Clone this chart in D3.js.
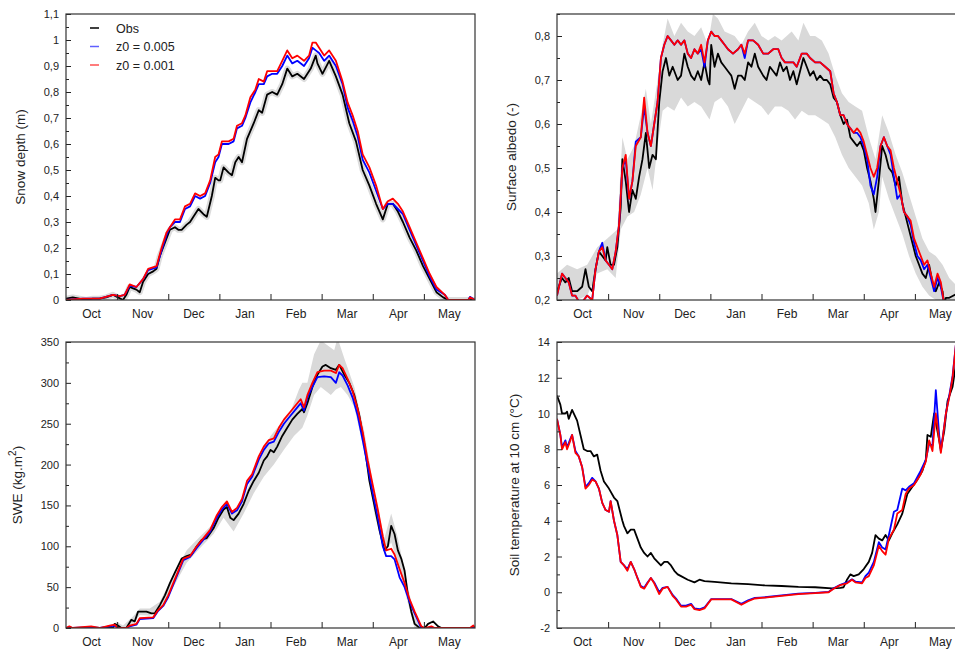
<!DOCTYPE html>
<html>
<head>
<meta charset="utf-8">
<script src="https://cdn.jsdelivr.net/npm/d3@7"></script>
<style>
  body { margin: 0; background: #fff; }
  svg { font-family: "Liberation Sans", Arial, sans-serif; }
</style>
</head>
<body>
<div id="chart"></div>
<script>
// x values are days since 1 Oct (one month tick every 30.5 days)
const months = ["Oct", "Nov", "Dec", "Jan", "Feb", "Mar", "Apr", "May"];
const legendNames = ["Obs", "z0 = 0.005", "z0 = 0.001"];

// ---- snow depth (m)
const depthObs = [[0,0.005],[4,0.01],[8,0.005],[12,0],[16,0.005],[20,0.005],[24,0.01],[28,0.02],[31,0.01],[34,0],[36,0.02],[38,0.05],[40,0.045],[42,0.04],[44,0.03],[46,0.07],[49,0.1],[52,0.11],[54,0.12],[56,0.17],[59,0.22],[62,0.27],[65,0.28],[67,0.27],[69,0.27],[72,0.29],[74,0.3],[76,0.32],[79,0.35],[82,0.33],[84,0.32],[87,0.4],[89,0.47],[91,0.46],[92,0.46],[94,0.51],[97,0.49],[99,0.48],[101,0.53],[103,0.55],[105,0.53],[108,0.62],[112,0.68],[115,0.73],[117,0.72],[120,0.79],[123,0.8],[126,0.79],[129,0.83],[132,0.89],[135,0.86],[138,0.87],[142,0.85],[146,0.89],[149,0.94],[150,0.91],[153,0.87],[157,0.92],[161,0.86],[165,0.79],[169,0.68],[173,0.61],[177,0.5],[181,0.44],[185,0.37],[189,0.31],[192,0.37],[195,0.37],[198,0.34],[201,0.3],[205,0.24],[209,0.19],[213,0.13],[217,0.08],[221,0.03],[225,0.01],[228,0],[244,0]];
const depthZ005 = [[0,0],[10,0.005],[20,0.005],[28,0.02],[32,0.015],[35,0.02],[38,0.055],[42,0.05],[46,0.08],[49,0.115],[54,0.125],[57,0.19],[60,0.25],[62,0.28],[65,0.3],[68,0.3],[71,0.35],[74,0.36],[77,0.4],[80,0.39],[83,0.4],[86,0.45],[89,0.53],[91,0.55],[93,0.6],[97,0.6],[100,0.61],[102,0.66],[105,0.67],[107,0.7],[110,0.76],[113,0.8],[115,0.83],[118,0.83],[120,0.86],[123,0.87],[126,0.87],[129,0.9],[132,0.94],[135,0.91],[138,0.92],[142,0.9],[145,0.93],[147,0.97],[149,0.96],[151,0.95],[154,0.92],[157,0.94],[161,0.9],[165,0.83],[168,0.74],[171,0.69],[174,0.63],[177,0.54],[181,0.49],[185,0.42],[189,0.35],[192,0.37],[195,0.37],[198,0.35],[201,0.33],[205,0.27],[209,0.21],[213,0.15],[217,0.09],[221,0.04],[226,0.02],[228,0],[240,0],[241,0.012],[244,0]];
const depthZ001 = [[0,0],[10,0.005],[20,0.005],[28,0.02],[32,0.015],[35,0.02],[38,0.06],[42,0.05],[46,0.08],[49,0.12],[54,0.13],[57,0.2],[60,0.26],[62,0.28],[65,0.31],[68,0.31],[71,0.36],[74,0.37],[77,0.41],[80,0.4],[83,0.41],[86,0.46],[89,0.55],[91,0.56],[93,0.61],[97,0.61],[100,0.62],[102,0.67],[105,0.68],[107,0.71],[110,0.78],[113,0.81],[115,0.85],[118,0.84],[120,0.88],[123,0.88],[126,0.88],[129,0.92],[132,0.96],[135,0.93],[138,0.94],[142,0.92],[145,0.94],[147,0.99],[149,0.99],[151,0.97],[154,0.94],[157,0.96],[161,0.92],[165,0.84],[168,0.76],[171,0.71],[174,0.65],[177,0.56],[181,0.51],[185,0.44],[189,0.35],[192,0.38],[195,0.39],[198,0.37],[201,0.34],[205,0.28],[209,0.22],[213,0.16],[217,0.1],[221,0.05],[226,0.02],[228,0],[240,0],[241,0.01],[244,0]];

// ---- surface albedo (-)
const albedoObs = [[0,0.22],[3,0.25],[5,0.24],[7,0.25],[9,0.22],[12,0.22],[15,0.23],[17,0.27],[19,0.23],[21,0.22],[23,0.27],[25,0.31],[27,0.3],[29,0.29],[30,0.32],[32,0.28],[34,0.28],[36,0.32],[38,0.41],[39,0.52],[41,0.47],[43,0.4],[45,0.45],[47,0.43],[49,0.48],[51,0.52],[53,0.58],[55,0.5],[57,0.53],[59,0.52],[61,0.65],[63,0.72],[65,0.75],[67,0.71],[69,0.73],[72,0.7],[74,0.71],[76,0.76],[78,0.73],[80,0.71],[82,0.7],[84,0.72],[86,0.7],[88,0.74],[90,0.7],[91,0.69],[92,0.78],[94,0.73],[96,0.76],[98,0.74],[100,0.73],[102,0.72],[104,0.71],[106,0.68],[108,0.71],[110,0.71],[112,0.7],[114,0.74],[116,0.73],[118,0.76],[120,0.73],[123,0.71],[125,0.7],[127,0.73],[129,0.72],[131,0.71],[133,0.74],[135,0.72],[137,0.73],[139,0.7],[141,0.72],[143,0.69],[145,0.72],[147,0.75],[149,0.73],[151,0.71],[153,0.72],[155,0.7],[157,0.71],[159,0.7],[161,0.7],[163,0.69],[165,0.66],[167,0.65],[169,0.62],[171,0.6],[173,0.61],[175,0.57],[177,0.56],[179,0.55],[181,0.56],[183,0.54],[185,0.5],[187,0.47],[189,0.43],[190,0.4],[192,0.47],[194,0.55],[196,0.53],[198,0.5],[200,0.49],[202,0.46],[204,0.48],[206,0.42],[208,0.39],[210,0.36],[212,0.33],[214,0.3],[216,0.28],[218,0.26],[220,0.25],[222,0.28],[224,0.24],[226,0.22],[228,0.24],[230,0.22],[231,0.19],[232,0.205],[234,0.205],[239,0.215],[244,0.22]];
const albedoZ005 = [[0,0.21],[3,0.26],[5,0.25],[7,0.24],[9,0.21],[11,0.21],[14,0.19],[16,0.2],[18,0.21],[21,0.2],[23,0.27],[25,0.31],[27,0.33],[29,0.29],[31,0.28],[33,0.27],[35,0.31],[37,0.37],[39,0.5],[41,0.52],[43,0.43],[45,0.47],[47,0.56],[50,0.57],[52,0.64],[54,0.58],[56,0.55],[58,0.6],[60,0.65],[62,0.75],[64,0.78],[66,0.8],[68,0.79],[70,0.78],[72,0.79],[74,0.78],[76,0.79],[78,0.76],[80,0.75],[82,0.77],[84,0.76],[86,0.77],[88,0.73],[90,0.79],[92,0.81],[94,0.8],[96,0.8],[98,0.79],[100,0.78],[102,0.77],[105,0.76],[108,0.77],[110,0.78],[112,0.75],[114,0.79],[117,0.79],[120,0.78],[123,0.76],[126,0.76],[129,0.77],[132,0.77],[134,0.75],[136,0.74],[138,0.74],[141,0.74],[143,0.73],[146,0.76],[149,0.76],[151,0.75],[154,0.74],[157,0.74],[160,0.73],[163,0.72],[165,0.67],[167,0.65],[169,0.62],[171,0.62],[173,0.6],[175,0.59],[177,0.58],[179,0.58],[181,0.57],[183,0.55],[185,0.52],[187,0.46],[189,0.44],[191,0.48],[193,0.55],[195,0.57],[197,0.55],[199,0.53],[201,0.48],[203,0.43],[205,0.44],[207,0.4],[209,0.39],[211,0.37],[213,0.33],[215,0.3],[217,0.29],[219,0.27],[221,0.28],[223,0.25],[225,0.22],[227,0.25],[229,0.23],[231,0.19],[233,0.18]];
const albedoZ001 = [[0,0.21],[3,0.26],[5,0.25],[7,0.24],[9,0.21],[11,0.21],[14,0.19],[16,0.2],[18,0.21],[21,0.2],[23,0.27],[25,0.31],[27,0.32],[29,0.29],[31,0.28],[33,0.27],[35,0.31],[37,0.37],[39,0.5],[41,0.53],[43,0.43],[45,0.47],[47,0.55],[50,0.57],[52,0.66],[54,0.58],[56,0.55],[58,0.6],[60,0.65],[62,0.75],[64,0.78],[66,0.8],[68,0.79],[70,0.78],[72,0.79],[74,0.78],[76,0.79],[78,0.76],[80,0.75],[82,0.77],[84,0.76],[86,0.78],[88,0.74],[90,0.79],[92,0.81],[94,0.8],[96,0.8],[98,0.79],[100,0.78],[102,0.77],[105,0.76],[108,0.77],[110,0.78],[112,0.76],[114,0.79],[117,0.79],[120,0.78],[123,0.76],[126,0.76],[129,0.77],[132,0.77],[134,0.75],[136,0.74],[138,0.74],[141,0.74],[143,0.73],[146,0.76],[149,0.76],[151,0.75],[154,0.74],[157,0.74],[160,0.73],[163,0.72],[165,0.67],[167,0.65],[169,0.62],[171,0.62],[173,0.6],[175,0.59],[177,0.58],[179,0.59],[181,0.58],[183,0.56],[185,0.53],[187,0.5],[189,0.48],[191,0.5],[193,0.55],[195,0.57],[197,0.55],[199,0.54],[201,0.5],[203,0.47],[205,0.44],[207,0.4],[209,0.39],[211,0.38],[213,0.34],[215,0.32],[217,0.3],[219,0.28],[221,0.29],[223,0.26],[225,0.23],[227,0.26],[229,0.24],[231,0.19],[233,0.18]];
const albedoHigh = [[0,0.26],[6,0.28],[12,0.27],[18,0.28],[24,0.32],[30,0.34],[36,0.36],[39,0.57],[42,0.52],[46,0.55],[50,0.62],[53,0.68],[56,0.6],[60,0.7],[63,0.78],[66,0.84],[70,0.8],[74,0.83],[78,0.81],[82,0.8],[86,0.82],[90,0.78],[93,0.85],[96,0.84],[100,0.81],[106,0.8],[110,0.78],[114,0.81],[118,0.83],[122,0.8],[126,0.79],[130,0.8],[134,0.79],[140,0.81],[144,0.79],[147,0.83],[151,0.8],[154,0.8],[158,0.79],[162,0.76],[166,0.71],[170,0.67],[174,0.65],[178,0.64],[182,0.63],[186,0.57],[190,0.52],[194,0.62],[198,0.58],[202,0.53],[206,0.49],[210,0.44],[214,0.39],[218,0.34],[222,0.31],[226,0.3],[230,0.28],[234,0.25],[239,0.23],[244,0.23]];
const albedoLow = [[0,0.2],[6,0.2],[12,0.2],[18,0.21],[24,0.26],[30,0.27],[35,0.25],[38,0.36],[42,0.39],[46,0.4],[50,0.44],[54,0.5],[57,0.45],[60,0.55],[63,0.63],[66,0.64],[70,0.63],[74,0.66],[78,0.64],[82,0.65],[86,0.64],[91,0.61],[94,0.65],[98,0.66],[102,0.64],[106,0.6],[110,0.63],[114,0.66],[118,0.65],[122,0.64],[126,0.62],[130,0.64],[134,0.64],[138,0.63],[142,0.61],[146,0.63],[150,0.62],[154,0.62],[158,0.61],[162,0.6],[166,0.57],[170,0.53],[174,0.5],[178,0.48],[182,0.46],[186,0.42],[189,0.36],[192,0.4],[194,0.48],[198,0.43],[202,0.39],[206,0.35],[210,0.3],[214,0.26],[218,0.23],[222,0.21],[226,0.2],[244,0.2]];

// ---- SWE (kg m-2)
const sweObs = [[0,0],[28,0],[29,5],[31,3],[33,0],[36,0],[39,10],[41,8],[43,20],[48,20],[51,18],[53,18],[56,28],[59,40],[62,55],[65,68],[69,85],[72,88],[75,90],[78,100],[81,108],[84,110],[88,122],[91,135],[94,145],[96,148],[98,135],[100,132],[103,140],[106,152],[109,168],[112,180],[115,190],[118,205],[120,210],[122,218],[124,215],[126,222],[129,235],[132,245],[135,255],[138,262],[141,268],[142,264],[144,275],[147,295],[150,310],[153,320],[155,322],[158,318],[161,316],[163,322],[166,310],[169,300],[172,285],[175,260],[178,225],[181,180],[184,150],[187,120],[190,95],[192,100],[194,125],[196,115],[198,95],[200,85],[202,70],[204,40],[206,20],[208,5],[211,0],[214,0],[216,5],[219,8],[222,2],[224,0],[244,0]];
const sweZ005 = [[0,0],[2,1],[4,0],[15,1],[20,0],[26,2],[29,3],[31,0],[36,0],[38,2],[42,4],[44,11],[52,12],[55,21],[58,27],[61,38],[64,53],[67,68],[70,83],[74,87],[78,98],[82,108],[86,118],[90,135],[93,145],[96,152],[99,140],[102,144],[105,155],[108,176],[111,185],[115,206],[118,218],[121,226],[124,228],[127,240],[130,250],[134,260],[138,270],[140,275],[142,266],[144,282],[147,295],[150,307],[154,308],[158,307],[161,300],[163,313],[165,309],[168,297],[171,282],[174,260],[177,230],[180,198],[183,165],[186,135],[189,100],[191,88],[194,88],[196,84],[199,62],[202,50],[205,32],[208,18],[212,0],[244,0]];
const sweZ001 = [[0,0],[2,2],[4,0],[15,2],[20,0],[26,3],[29,4],[31,0],[36,0],[38,3],[42,5],[44,12],[52,13],[55,22],[58,28],[61,40],[64,55],[67,70],[70,85],[74,88],[78,100],[82,110],[86,120],[90,138],[93,148],[96,155],[99,142],[102,147],[105,158],[108,180],[111,188],[115,210],[118,222],[121,230],[124,232],[127,245],[130,255],[134,265],[138,275],[140,280],[142,270],[144,285],[147,300],[150,313],[154,315],[158,315],[161,312],[163,322],[165,318],[168,305],[171,290],[174,268],[177,240],[180,205],[183,175],[186,145],[189,112],[191,95],[194,97],[196,90],[199,72],[202,55],[205,35],[208,20],[212,2],[214,0],[218,2],[220,0],[241,0],[243,3],[244,0]];
const sweHigh = [[28,0],[30,8],[34,3],[40,14],[44,24],[50,24],[56,32],[64,65],[72,95],[80,112],[88,128],[94,150],[100,140],[106,158],[112,190],[118,220],[122,235],[128,250],[134,265],[139,292],[141,300],[144,300],[148,335],[152,352],[160,340],[162,355],[166,330],[172,295],[178,240],[184,165],[190,110],[194,140],[198,110],[204,50],[208,15],[212,0]];
const sweLow = [[28,0],[30,0],[34,0],[40,5],[44,16],[50,15],[56,24],[64,50],[72,80],[80,98],[88,115],[94,135],[100,118],[106,140],[112,165],[118,185],[124,200],[130,218],[136,235],[141,245],[144,260],[148,285],[152,295],[158,285],[161,292],[164,295],[168,285],[172,270],[178,215],[184,140],[190,90],[194,105],[198,80],[204,30],[208,0],[212,0]];

// ---- soil temperature at 10 cm (degC)
const soilObs = [[0,11],[2,10.5],[3,10],[5,10],[6,10.1],[7,9.7],[9,10.2],[12,9.6],[14,8.8],[16,8],[18,7.9],[20,7.9],[22,7.6],[24,7.7],[26,6.8],[28,6.2],[31,5.8],[34,5.3],[36,5.1],[39,4],[40,3.7],[42,3.3],[44,3.5],[46,3.5],[48,3],[50,2.5],[52,2.2],[54,2],[56,2.2],[58,1.9],[60,1.7],[62,1.5],[64,1.7],[66,1.7],[68,1.5],[70,1.2],[72,1],[74,0.9],[78,0.7],[82,0.55],[85,0.7],[88,0.62],[94,0.58],[104,0.5],[114,0.45],[124,0.38],[134,0.35],[144,0.3],[154,0.28],[164,0.22],[169,0.25],[171,0.28],[173,0.7],[175,1],[177,0.9],[180,1],[183,1.3],[186,1.7],[188,2.2],[190,3.2],[192,3],[194,2.9],[196,3.2],[198,2.9],[200,3.3],[203,3.8],[206,4.4],[209,5.5],[212,5.9],[215,6.3],[218,6.8],[220,7.4],[221,8.8],[223,8.7],[225,10],[227,9],[229,8],[231,9],[233,10.7],[236,11.5],[239,13.4],[244,14.5]];
const soilZ005 = [[0,9.7],[2,8.8],[3,8.1],[5,8.5],[6,8.1],[8,8.6],[9,8.8],[11,7.9],[13,7.6],[15,7],[17,5.9],[19,6.1],[21,6.4],[23,6.2],[25,5.8],[27,5],[29,4.6],[31,4.5],[32,5.1],[34,4],[36,3.2],[38,1.7],[40,1.5],[42,1.3],[44,1.7],[46,1.3],[48,0.8],[50,0.35],[52,0.25],[54,0.55],[56,0.8],[58,0.55],[61,0],[63,0.25],[66,0.3],[69,-0.15],[71,-0.35],[74,-0.75],[77,-0.75],[80,-0.65],[82,-0.9],[85,-0.95],[88,-0.85],[92,-0.38],[98,-0.38],[104,-0.38],[110,-0.65],[114,-0.45],[118,-0.32],[124,-0.28],[134,-0.18],[144,-0.08],[154,-0.03],[162,0.02],[165,0.22],[169,0.42],[173,0.55],[176,0.72],[178,0.6],[182,0.55],[184,0.9],[186,1.1],[189,1.7],[192,2.8],[194,2.5],[196,2.4],[198,3.2],[201,4.5],[203,4.6],[206,5.8],[208,5.7],[210,5.9],[213,6.1],[217,6.8],[220,7.4],[222,8.3],[224,8.2],[226,11.3],[228,8.8],[229,7.9],[232,10],[234,11],[236,12.1],[238,13.9],[244,15]];
const soilZ001 = [[0,9.7],[2,8.8],[3,8],[5,8.4],[6,8],[8,8.5],[9,8.8],[11,7.8],[13,7.6],[15,7],[17,5.8],[19,6],[21,6.3],[23,6.2],[25,5.8],[27,5],[29,4.6],[31,4.5],[32,5.1],[34,4],[36,3.2],[38,1.7],[40,1.5],[42,1.2],[44,1.7],[46,1.3],[48,0.8],[50,0.3],[52,0.2],[54,0.5],[56,0.8],[58,0.5],[61,-0.1],[63,0.2],[66,0.3],[69,-0.2],[71,-0.4],[74,-0.8],[77,-0.8],[80,-0.7],[82,-0.95],[85,-1],[88,-0.9],[92,-0.4],[98,-0.4],[104,-0.4],[110,-0.7],[114,-0.5],[118,-0.35],[124,-0.3],[134,-0.2],[144,-0.1],[154,-0.05],[162,0],[165,0.2],[169,0.4],[173,0.5],[176,0.7],[178,0.55],[182,0.5],[184,0.8],[186,0.9],[189,1.5],[192,2.6],[194,2.3],[196,2.1],[198,3],[201,3.5],[203,4.4],[206,4.6],[208,5.5],[210,5.8],[213,6],[217,6.6],[220,7.3],[222,8.5],[224,7.9],[226,10],[228,8.5],[229,7.8],[232,10],[234,10.9],[236,12],[238,13.9],[244,15]];

const W = 955, H = 650;
const pw = 409, ph = 286;
const seasonDays = 244, monthLen = 30.5;

const svg = d3.select("#chart").append("svg").attr("width", W).attr("height", H);

const commaFmt = v => String(Math.round(v * 100) / 100).replace(".", ",");

const panels = [
  { left: 66, top: 14, domain: [0, 1.1], major: 0.1, title: "Snow depth (m)", tx: 25,
    obs: depthObs, z005: depthZ005, z001: depthZ001, halo: true, legend: true },
  { left: 557, top: 14, domain: [0.2, 0.85], major: 0.1, title: "Surface albedo (-)", tx: 516,
    obs: albedoObs, z005: albedoZ005, z001: albedoZ001, hi: albedoHigh, lo: albedoLow },
  { left: 66, top: 342, domain: [0, 350], major: 50, title: "SWE (kg.m", sup: "2", tx: 22,
    obs: sweObs, z005: sweZ005, z001: sweZ001, hi: sweHigh, lo: sweLow },
  { left: 557, top: 342, domain: [-2, 14], major: 2, title: "Soil temperature at 10 cm (\u00b0C)", tx: 519,
    obs: soilObs, z005: soilZ005, z001: soilZ001 }
];

panels.forEach((p, i) => {
  const g = svg.append("g").attr("transform", `translate(${p.left},${p.top})`);
  const x = d3.scaleLinear().domain([0, seasonDays]).range([0, pw]);
  const y = d3.scaleLinear().domain(p.domain).range([ph, 0]);

  g.append("clipPath").attr("id", "clip" + i)
    .append("rect").attr("width", pw).attr("height", ph);
  const plot = g.append("g").attr("clip-path", `url(#clip${i})`);

  // uncertainty envelope
  if (p.hi) {
    const lo = p.lo;
    // merge high/low edges into a closed polygon
    const poly = p.hi.map(d => [x(d[0]), y(d[1])])
      .concat(lo.slice().reverse().map(d => [x(d[0]), y(d[1])]));
    plot.append("path")
      .attr("d", "M" + poly.join("L") + "Z")
      .attr("fill", "#d9d9d9");
  }

  const line = d3.line().x(d => x(d[0])).y(d => y(d[1]));

  if (p.halo) {
    plot.append("path").attr("d", line(p.obs)).attr("fill", "none")
      .attr("stroke", "#dcdcdc").attr("stroke-width", 6).attr("stroke-linejoin", "round");
  }
  [[p.obs, "#000"], [p.z005, "#0000ff"], [p.z001, "#ff0000"]].forEach(([s, c]) => {
    plot.append("path").attr("d", line(s)).attr("fill", "none")
      .attr("stroke", c).attr("stroke-width", 1.8).attr("stroke-linejoin", "round");
  });

  // y axis: major + minor ticks pointing inward
  const majors = d3.range(p.domain[0], p.domain[1] + 1e-9, p.major);
  const minors = d3.range(p.domain[0] + p.major / 2, p.domain[1] + 1e-9, p.major);
  const yAxis = d3.axisLeft(y).tickValues(majors).tickSize(-5).tickPadding(7).tickFormat(commaFmt);
  const yg = g.append("g").call(yAxis);
  yg.select(".domain").remove();
  yg.selectAll("text").attr("font-size", 11).attr("fill", "#222").attr("font-family", "Liberation Sans, Arial, sans-serif");
  yg.selectAll("line").attr("stroke", "#222");
  const ym = g.append("g").call(d3.axisLeft(y).tickValues(minors).tickSize(-3).tickFormat(""));
  ym.select(".domain").remove();
  ym.selectAll("line").attr("stroke", "#222");

  // x axis: month boundary ticks inward, labels mid-month
  const xTicks = d3.range(1, months.length).map(k => k * monthLen);
  const xg = g.append("g").attr("transform", `translate(0,${ph})`)
    .call(d3.axisBottom(x).tickValues(xTicks).tickSize(-6).tickFormat(""));
  xg.select(".domain").remove();
  xg.selectAll("line").attr("stroke", "#222");
  g.selectAll(".mlab").data(months).join("text")
    .attr("class", "mlab")
    .attr("x", (d, k) => x(k * monthLen + monthLen / 2))
    .attr("y", ph + 18)
    .attr("text-anchor", "middle")
    .attr("font-size", 12)
    .attr("fill", "#222")
    .text(d => d);

  // frame
  g.append("rect").attr("width", pw).attr("height", ph)
    .attr("fill", "none").attr("stroke", "#333").attr("stroke-width", 1.2);

  // axis title
  const cy = p.top + ph / 2;
  const t = svg.append("text")
    .attr("transform", `translate(${p.tx},${cy}) rotate(-90)`)
    .attr("text-anchor", "middle")
    .attr("font-size", 13.5)
    .attr("fill", "#222")
    .text(p.title);
  if (p.sup) {
    t.append("tspan").attr("dy", -6).attr("font-size", 10).text(p.sup);
    t.append("tspan").attr("dy", 6).text(")");
  }

  if (p.legend) {
    const colors = ["#000", "#6060ff", "#ff5050"];
    legendNames.forEach((name, k) => {
      const ly = 14 + k * 18.5;
      g.append("line").attr("x1", 24).attr("x2", 33).attr("y1", ly).attr("y2", ly)
        .attr("stroke", colors[k]).attr("stroke-width", 1.5);
      g.append("text").attr("x", 50).attr("y", ly + 4.5)
        .attr("font-size", 12.5).attr("fill", "#222").text(name);
    });
  }
});
</script>
</body>
</html>
